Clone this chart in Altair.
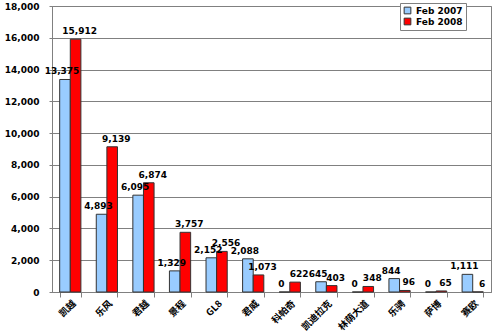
import altair as alt
import pandas as pd

categories = ["凯越", "乐风", "君越", "景程", "GL8", "君威", "科帕奇", "凯迪拉克", "林荫大道", "乐骋", "萨博", "赛欧"]
feb2007 = [13375, 4893, 6095, 1329, 2152, 2088, 0, 645, 0, 844, 0, 1111]
feb2008 = [15912, 9139, 6874, 3757, 2556, 1073, 622, 403, 348, 96, 65, 6]
series = ["Feb 2007", "Feb 2008"]
colors = ["#99CCFF", "#FF0000"]
y_ticks = list(range(0, 18001, 2000))

rows = []
for c, a, b in zip(categories, feb2007, feb2008):
    rows.append({"cat": c, "series": series[0], "value": a})
    rows.append({"cat": c, "series": series[1], "value": b})
df = pd.DataFrame(rows)

x = alt.X(
    "cat:N", sort=categories, title=None,
    scale=alt.Scale(paddingInner=0.42, paddingOuter=0.21),
    axis=alt.Axis(labelAngle=315, tickBand="extent", labelFont="Noto Sans CJK SC",
                  labelFontWeight="bold", labelFontSize=9.5, labelColor="#000000",
                  domainColor="#808080", tickColor="#808080", tickSize=5,
                  labelPadding=1, grid=False),
)
y = alt.Y(
    "value:Q", title=None, scale=alt.Scale(domain=[0, 18000], nice=False),
    axis=alt.Axis(values=y_ticks, format=",.0f", grid=True, gridColor="#808080",
                  gridOpacity=1, domainColor="#808080", tickColor="#808080",
                  tickSize=3, labelFont="DejaVu Sans", labelFontWeight="bold",
                  labelFontSize=9, labelColor="#000000", labelPadding=10),
)
xo = alt.XOffset("series:N", sort=series)
color = alt.Color(
    "series:N", sort=series, title=None,
    scale=alt.Scale(domain=series, range=colors),
    legend=alt.Legend(orient="none", legendX=348, legendY=-3, symbolType="square",
                      symbolSize=45, symbolStrokeColor="#333333", symbolStrokeWidth=1,
                      labelFont="DejaVu Sans", labelFontWeight="bold", labelFontSize=9,
                      labelColor="#000000", strokeColor="#808080", fillColor="#ffffff",
                      padding=3, rowPadding=0, labelLimit=200),
)

base = alt.Chart(df)
bars = base.mark_bar(stroke="#333333", strokeWidth=1).encode(x=x, xOffset=xo, y=y, color=color)

txt_style = dict(fontSize=9, fontWeight="bold", font="DejaVu Sans", color="#000000", baseline="bottom")
t1 = base.transform_filter(alt.datum.series == series[0]).mark_text(dy=-3, dx=-3, **txt_style).encode(
    x=x, xOffset=xo, y=y, text=alt.Text("value:Q", format=",.0f"))
t2 = base.transform_filter(alt.datum.series == series[1]).mark_text(dy=-3, dx=4, **txt_style).encode(
    x=x, xOffset=xo, y=y, text=alt.Text("value:Q", format=",.0f"))

chart = alt.layer(bars, t1, t2).properties(
    width=439, height=286,
    autosize=alt.AutoSizeParams(type="none"),
    padding={"left": 52, "top": 6, "right": 9, "bottom": 43},
    background="#ffffff",
).configure_view(stroke="#808080", strokeWidth=1)

chart.save("out.html", embed_options={"renderer": "svg", "actions": False})
